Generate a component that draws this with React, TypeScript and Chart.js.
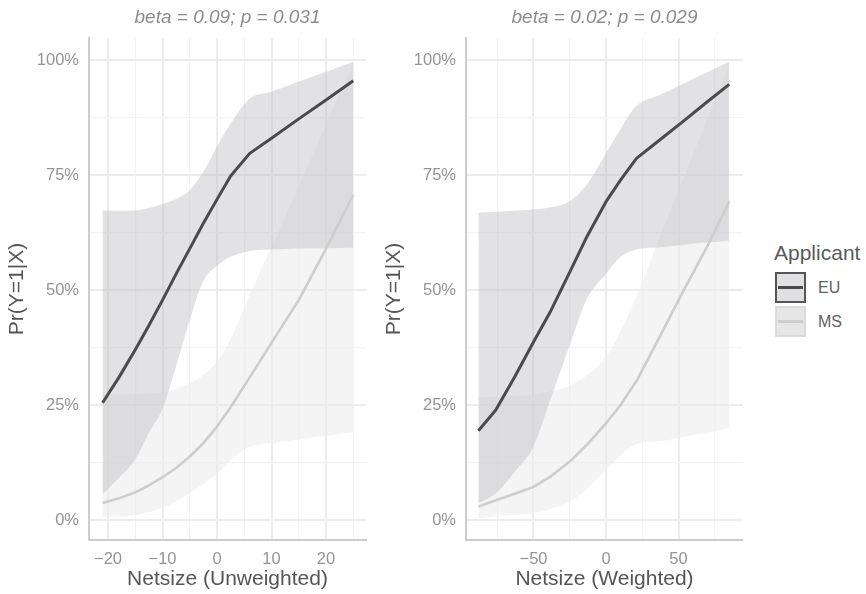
import React, { useEffect, useRef } from "react";
import { Chart, registerables } from "chart.js";

Chart.register(...registerables);

const FONT = '"Liberation Sans", Arial, Helvetica, sans-serif';

// ---- shared y axis ----
const yTicks = [0, 0.125, 0.25, 0.375, 0.5, 0.625, 0.75, 0.875, 1];
const yTickLabels = ["0%", "", "25%", "", "50%", "", "75%", "", "100%"];
const yTitle = "Pr(Y=1|X)";

// ---- panel 1 (unweighted) ----
const p1Title = "beta = 0.09; p = 0.031";
const p1XTitle = "Netsize (Unweighted)";
const p1XTicks = [-20, -15, -10, -5, 0, 5, 10, 15, 20, 25];
const p1XTickLabels = ["\u221220", "", "\u221210", "", "0", "", "10", "", "20", ""];
const p1X = [-21, -18, -15, -12.5, -10, -7.5, -5, -2.5, 0, 2.5, 6, 10, 15, 20, 25];
const p1EuFit = [0.255, 0.31, 0.37, 0.423, 0.478, 0.535, 0.59, 0.645, 0.697, 0.748, 0.797, 0.83, 0.872, 0.913, 0.955];
const p1EuHi = [0.672, 0.672, 0.673, 0.678, 0.687, 0.698, 0.717, 0.757, 0.812, 0.862, 0.916, 0.931, 0.953, 0.974, 0.996];
const p1EuLo = [0.056, 0.092, 0.132, 0.19, 0.242, 0.335, 0.435, 0.52, 0.552, 0.572, 0.585, 0.588, 0.59, 0.591, 0.592];
const p1MsFit = [0.037, 0.047, 0.06, 0.075, 0.093, 0.113, 0.138, 0.167, 0.203, 0.245, 0.31, 0.385, 0.478, 0.59, 0.707];
const p1MsHi = [0.272, 0.273, 0.274, 0.275, 0.277, 0.285, 0.297, 0.315, 0.345, 0.393, 0.49, 0.593, 0.725, 0.86, 0.99];
const p1MsLo = [0.006, 0.008, 0.01, 0.017, 0.027, 0.04, 0.058, 0.078, 0.1, 0.13, 0.159, 0.167, 0.175, 0.183, 0.19];

// ---- panel 2 (weighted) ----
const p2Title = "beta = 0.02; p = 0.029";
const p2XTitle = "Netsize (Weighted)";
const p2XTicks = [-75, -50, -25, 0, 25, 50, 75];
const p2XTickLabels = ["", "\u221250", "", "0", "", "50", ""];
const p2X = [-88, -76, -63, -50, -38, -25, -13, 0, 10, 21, 37, 53, 69, 85];
const p2EuFit = [0.194, 0.239, 0.311, 0.387, 0.455, 0.539, 0.617, 0.692, 0.739, 0.786, 0.826, 0.866, 0.907, 0.947];
const p2EuHi = [0.668, 0.67, 0.672, 0.675, 0.68, 0.693, 0.73, 0.797, 0.85, 0.9, 0.924, 0.948, 0.972, 0.996];
const p2EuLo = [0.036, 0.058, 0.105, 0.16, 0.265, 0.38, 0.482, 0.535, 0.572, 0.588, 0.593, 0.598, 0.603, 0.607];
const p2MsFit = [0.029, 0.043, 0.057, 0.072, 0.095, 0.127, 0.164, 0.21, 0.25, 0.302, 0.398, 0.496, 0.59, 0.692];
const p2MsHi = [0.266, 0.268, 0.27, 0.272, 0.28, 0.292, 0.315, 0.355, 0.41, 0.487, 0.613, 0.74, 0.864, 0.99];
const p2MsLo = [0.004, 0.008, 0.011, 0.015, 0.024, 0.04, 0.068, 0.109, 0.14, 0.165, 0.171, 0.18, 0.19, 0.199];

// ---- legend ----
const legendTitle = "Applicant";
const seriesNames = ["EU", "MS"];

const EU_LINE = "#4a4a4a";
const MS_LINE = "#cdcdcd";
const EU_FILL = "rgba(190,190,196,0.45)";
const MS_FILL = "rgba(235,235,235,0.55)";

type PanelProps = {
  left: number;
  title: string;
  xTitle: string;
  xTicks: number[];
  xTickLabels: string[];
  xMin: number;
  xMax: number;
  xs: number[];
  euFit: number[];
  euLo: number[];
  euHi: number[];
  msFit: number[];
  msLo: number[];
  msHi: number[];
};

function pts(xs: number[], ys: number[]) {
  return xs.map((x, i) => ({ x, y: ys[i] }));
}

function Panel(props: PanelProps) {
  const ref = useRef<HTMLCanvasElement | null>(null);
  useEffect(() => {
    if (!ref.current) return;
    const titlePlugin = {
      id: "panelTitle",
      afterDraw(chart: any) {
        const { ctx, chartArea } = chart;
        ctx.save();
        ctx.font = `italic 19px ${FONT}`;
        ctx.fillStyle = "#8c8c8c";
        ctx.textAlign = "center";
        ctx.textBaseline = "middle";
        ctx.fillText(props.title, (chartArea.left + chartArea.right) / 2, 18);
        ctx.restore();
      },
    };
    const fitCommon = { pointRadius: 0, pointHoverRadius: 0, tension: 0, borderJoinStyle: "round" as const, borderCapStyle: "butt" as const };
    const bandCommon = {
      pointRadius: 0,
      pointHoverRadius: 0,
      cubicInterpolationMode: "monotone" as const,
      borderColor: "transparent",
      borderWidth: 0,
    };
    const chart = new Chart(ref.current, {
      type: "line",
      data: {
        datasets: [
          { ...fitCommon, label: "EU", data: pts(props.xs, props.euFit), borderColor: EU_LINE, borderWidth: 3, fill: false },
          { ...fitCommon, label: "MS", data: pts(props.xs, props.msFit), borderColor: MS_LINE, borderWidth: 2.6, fill: false },
          { ...bandCommon, label: "EU lo", data: pts(props.xs, props.euLo), fill: false },
          { ...bandCommon, label: "EU hi", data: pts(props.xs, props.euHi), fill: 2, backgroundColor: EU_FILL },
          { ...bandCommon, label: "MS lo", data: pts(props.xs, props.msLo), fill: false },
          { ...bandCommon, label: "MS hi", data: pts(props.xs, props.msHi), fill: 4, backgroundColor: MS_FILL },
        ],
      },
      options: {
        responsive: false,
        animation: false,
        devicePixelRatio: 1,
        layout: { padding: { top: 38, left: 0, right: 14, bottom: 0 } },
        plugins: {
          legend: { display: false },
          tooltip: { enabled: false },
          filler: { drawTime: "beforeDatasetsDraw" },
        },
        scales: {
          x: {
            type: "linear",
            min: props.xMin,
            max: props.xMax,
            afterBuildTicks: (scale: any) => {
              scale.ticks = props.xTicks.map((v) => ({ value: v }));
            },
            afterFit: (scale: any) => {
              scale.height = 54;
            },
            ticks: {
              autoSkip: false,
              maxRotation: 0,
              padding: 10,
              color: "#949494",
              font: { family: FONT, size: 16.5 },
              callback: (_v: any, i: number) => props.xTickLabels[i],
            },
            grid: {
              drawTicks: false,
              color: (ctx: any) => (props.xTickLabels[ctx.index] ? "#ececec" : "#f3f3f3"),
              lineWidth: (ctx: any) => (props.xTickLabels[ctx.index] ? 2 : 1.2),
            },
            border: { display: true, color: "#cccccc", width: 2 },
            title: {
              display: true,
              text: props.xTitle,
              color: "#555555",
              font: { family: FONT, size: 21 },
              padding: { top: 0, bottom: 2 },
            },
          },
          y: {
            type: "linear",
            min: -0.0435,
            max: 1.0478,
            afterBuildTicks: (scale: any) => {
              scale.ticks = yTicks.map((v) => ({ value: v }));
            },
            afterFit: (scale: any) => {
              scale.width = 89;
            },
            ticks: {
              autoSkip: false,
              padding: 10,
              color: "#949494",
              font: { family: FONT, size: 16.5 },
              callback: (_v: any, i: number) => yTickLabels[i],
            },
            grid: {
              drawTicks: false,
              color: (ctx: any) => (yTickLabels[ctx.index] ? "#ececec" : "#f3f3f3"),
              lineWidth: (ctx: any) => (yTickLabels[ctx.index] ? 2 : 1.2),
            },
            border: { display: true, color: "#cccccc", width: 2 },
            title: {
              display: true,
              text: yTitle,
              color: "#555555",
              font: { family: FONT, size: 21 },
              padding: { top: 5, bottom: 0 },
            },
          },
        },
      } as any,
      plugins: [titlePlugin],
    });
    return () => chart.destroy();
  }, []);
  return (
    <canvas
      ref={ref}
      width={380}
      height={594}
      style={{ position: "absolute", left: props.left, top: 0, width: 380, height: 594 }}
    />
  );
}

function LegendKey(props: { top: number; fill: string; border: string; line: string; lineWidth: number; label: string }) {
  return (
    <>
      <div
        style={{
          position: "absolute",
          left: 775,
          top: props.top,
          width: 31,
          height: 31,
          boxSizing: "border-box",
          background: props.fill,
          border: `2px solid ${props.border}`,
        }}
      >
        <div
          style={{
            position: "absolute",
            left: 1,
            right: 1,
            top: (27 - props.lineWidth) / 2,
            height: props.lineWidth,
            background: props.line,
          }}
        />
      </div>
      <div
        style={{
          position: "absolute",
          left: 818,
          top: props.top + 15.5 - 10,
          height: 20,
          lineHeight: "20px",
          fontFamily: FONT,
          fontSize: 16,
          color: "#5f5f5f",
        }}
      >
        {props.label}
      </div>
    </>
  );
}

export default function App() {
  return (
    <div
      style={{
        position: "fixed",
        left: 0,
        top: 0,
        width: 866,
        height: 594,
        background: "#ffffff",
        overflow: "hidden",
      }}
    >
      <Panel
        left={0}
        title={p1Title}
        xTitle={p1XTitle}
        xTicks={p1XTicks}
        xTickLabels={p1XTickLabels}
        xMin={-23.49}
        xMax={27.34}
        xs={p1X}
        euFit={p1EuFit}
        euLo={p1EuLo}
        euHi={p1EuHi}
        msFit={p1MsFit}
        msLo={p1MsLo}
        msHi={p1MsHi}
      />
      <Panel
        left={377}
        title={p2Title}
        xTitle={p2XTitle}
        xTicks={p2XTicks}
        xTickLabels={p2XTickLabels}
        xMin={-96.55}
        xMax={94.48}
        xs={p2X}
        euFit={p2EuFit}
        euLo={p2EuLo}
        euHi={p2EuHi}
        msFit={p2MsFit}
        msLo={p2MsLo}
        msHi={p2MsHi}
      />
      <div
        style={{
          position: "absolute",
          left: 774,
          top: 240,
          height: 25,
          lineHeight: "25px",
          fontFamily: FONT,
          fontSize: 21,
          color: "#5a5a5a",
        }}
      >
        {legendTitle}
      </div>
      <LegendKey top={272} fill="#e0e0e2" border="#555555" line={EU_LINE} lineWidth={3} label={seriesNames[0]} />
      <LegendKey top={306} fill="#e6e6e6" border="#dadada" line={MS_LINE} lineWidth={2.5} label={seriesNames[1]} />
    </div>
  );
}
